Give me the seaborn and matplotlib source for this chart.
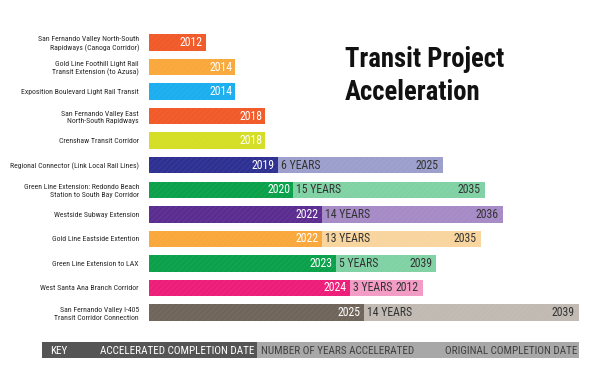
import matplotlib
matplotlib.use("Agg")
import matplotlib.pyplot as plt
import seaborn as sns
import pandas as pd
from matplotlib.patches import Rectangle
from matplotlib import font_manager
from matplotlib.colors import to_rgb

# ---------------- data ----------------
projects = [
    "San Fernando Valley North-South\nRapidways (Canoga Corridor)",
    "Gold Line Foothill Light Rail\nTransit Extension (to Azusa)",
    "Exposition Boulevard Light Rail Transit",
    "San Fernando Valley East\nNorth-South Rapidways",
    "Crenshaw Transit Corridor",
    "Regional Connector (Link Local Rail Lines)",
    "Green Line Extension: Redondo Beach\nStation to South Bay Corridor",
    "Westside Subway Extension",
    "Gold Line Eastside Extention",
    "Green Line Extension to LAX",
    "West Santa Ana Branch Corridor",
    "San Fernando Valley I-405\nTransit Corridor Connection",
]
accelerated_year = [2012, 2014, 2014, 2018, 2018, 2019, 2020, 2022, 2022, 2023, 2024, 2025]
years_accelerated = [None, None, None, None, None, 6, 15, 14, 13, 5, 3, 14]
original_year = [None, None, None, None, None, 2025, 2035, 2036, 2035, 2039, 2012, 2039]
# bar lengths as drawn in the infographic (not to a year scale)
accelerated_bar = [57, 86, 86, 116, 116, 129, 144, 173, 173, 187, 201, 215]
original_bar = [0, 0, 0, 0, 0, 294, 336, 354, 332, 287, 274, 430]

dark_colors = ["#F15A29", "#F9A83B", "#1CAEEF", "#F15A29", "#D4DE24", "#2E3192",
               "#0BA14B", "#5C2D91", "#F9A83B", "#0BA14B", "#ED1E79", "#70655A"]
light_colors = ["#FFFFFF", "#FFFFFF", "#FFFFFF", "#FFFFFF", "#FFFFFF", "#9C9FCC",
                "#80D2A4", "#A68BC6", "#F8D59E", "#80D2A4", "#F29BC4", "#C0BAB2"]

key_labels = ["KEY", "ACCELERATED COMPLETION DATE", "NUMBER OF YEARS ACCELERATED",
              "ORIGINAL COMPLETION DATE"]
title = "Transit Project\nAcceleration"

# ---------------- fonts ----------------
ents = font_manager.fontManager.ttflist
names = {f.name for f in ents}
cands = ["Roboto Condensed", "Liberation Sans Narrow", "Archivo Narrow",
         "PT Sans Narrow", "Asap Condensed", "Barlow Condensed"]
narrow = next((c for c in cands if c in names), "DejaVu Sans")
bold_cands = [c for c in cands if any(f.name == c and f.weight in (700, "bold") for f in ents)]
narrow_bold = bold_cands[0] if bold_cands else narrow

sns.set_theme(style="white")
plt.rcParams["font.family"] = [narrow, "DejaVu Sans"]
plt.rcParams["hatch.linewidth"] = 0.4

df = pd.DataFrame({"project": projects, "accel": accelerated_bar, "orig": original_bar})

W, H = 609, 376
fig = plt.figure(figsize=(W / 100, H / 100), dpi=100)
fig.patch.set_facecolor("white")

ax = fig.add_axes([149 / W, (H - 324.8) / H, (600 - 149) / W, 294.6 / H])
sns.barplot(data=df, y="project", x="orig", hue="project", palette=light_colors,
            order=projects, hue_order=projects, legend=False, width=0.67,
            linewidth=0, orient="h", ax=ax, dodge=False, saturation=1)
sns.barplot(data=df, y="project", x="accel", hue="project", palette=dark_colors,
            order=projects, hue_order=projects, legend=False, width=0.67,
            linewidth=0, orient="h", ax=ax, dodge=False, saturation=1)

# subtle print-like diagonal texture
for p in ax.patches:
    r, g, b = to_rgb(p.get_facecolor())
    k = 0.09
    p.set_edgecolor((r + (1 - r) * k, g + (1 - g) * k, b + (1 - b) * k))
    p.set_linewidth(0)
    p.set_hatch("//////")

ax.set_xlim(0, 451)
ax.set_ylim(11.5, -0.5)
ax.set_xlabel("")
ax.set_ylabel("")
ax.set_xticks([])
ax.set_yticks(range(len(projects)))
ax.set_yticklabels(projects, fontsize=5.6, color="#2a2a2a", linespacing=1.3)
ax.tick_params(axis="y", length=0, pad=7.2)
for s in ax.spines.values():
    s.set_visible(False)

fs = 8.5
for i in range(len(projects)):
    a = accelerated_bar[i]
    ax.text(a - 3, i, str(accelerated_year[i]), ha="right", va="center",
            color="white", fontsize=fs)
    if years_accelerated[i] is not None:
        ax.text(a + 3, i, f"{years_accelerated[i]} YEARS", ha="left", va="center",
                color="#333333", fontsize=fs)
        ax.text(original_bar[i] - 4, i, str(original_year[i]), ha="right", va="center",
                color="#333333", fontsize=fs)

# title
fig.text(345 / W, 1 - 46 / H, title, ha="left", va="top", fontsize=19.3,
         fontweight="bold", color="#111111", linespacing=1.3,
         family=[narrow_bold, "DejaVu Sans"])

# key strip
kax = fig.add_axes([42 / W, (H - 357.5) / H, (579 - 42) / W, 15.5 / H])
kax.set_xlim(42, 579)
kax.set_ylim(0, 1)
kax.set_facecolor("#A8A8A8")
kax.add_patch(Rectangle((42, 0), 257 - 42, 1, facecolor="#555555", edgecolor="none"))
kax.set_xticks([])
kax.set_yticks([])
for s in kax.spines.values():
    s.set_visible(False)
kfs = 8.0
kax.text(50, 0.45, key_labels[0], ha="left", va="center", color="white", fontsize=kfs)
kax.text(100, 0.45, key_labels[1], ha="left", va="center", color="white", fontsize=kfs)
kax.text(261, 0.45, key_labels[2], ha="left", va="center", color="#404040", fontsize=kfs)
kax.text(577, 0.45, key_labels[3], ha="right", va="center", color="#404040", fontsize=kfs)

fig.savefig("out.png", dpi=100, facecolor="white")
